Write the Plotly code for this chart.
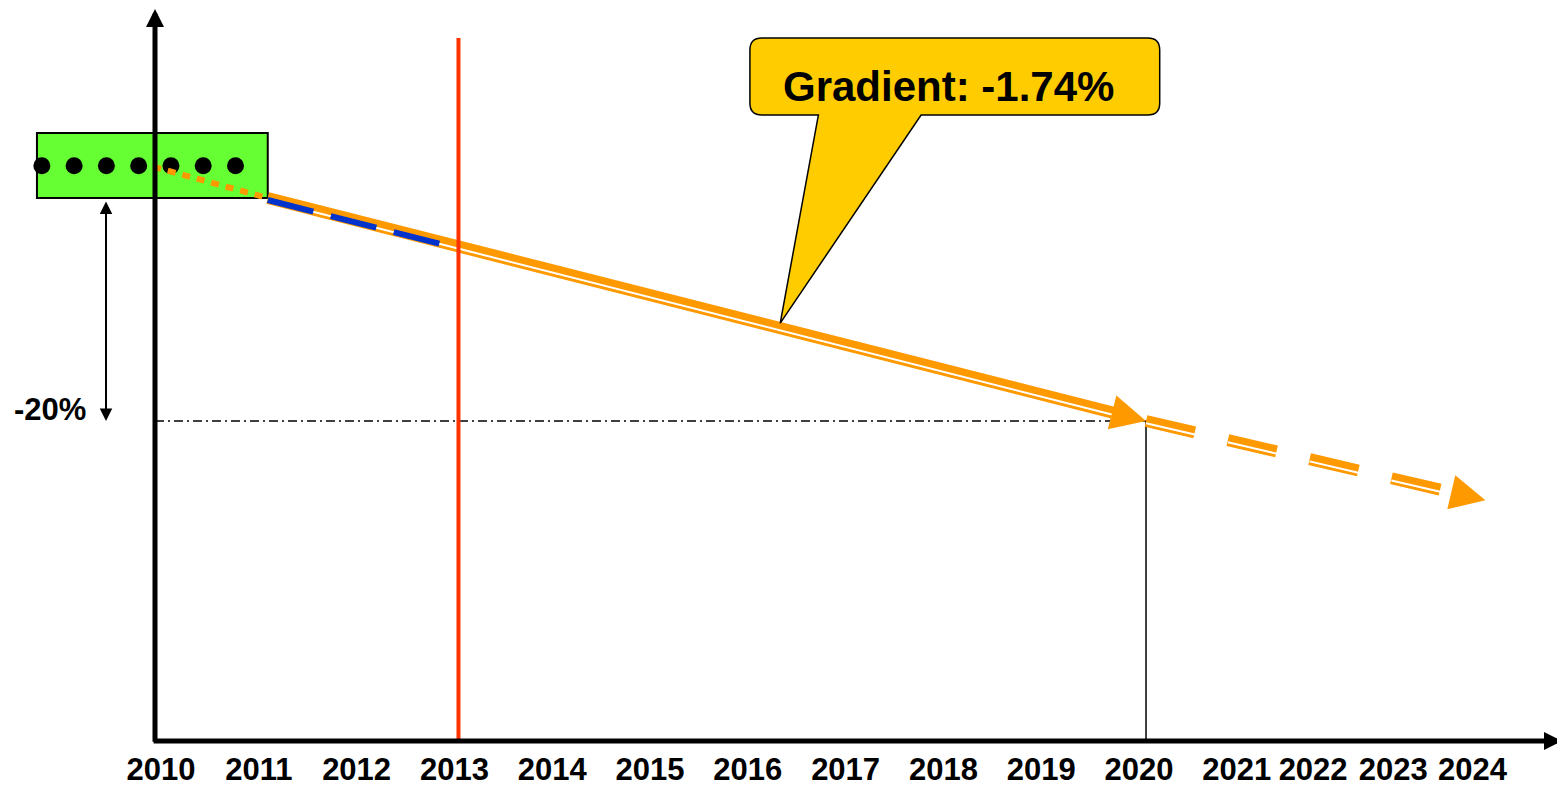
import math
import numpy as np
import plotly.graph_objects as go

# ------------------------------------------------------------------ data
year_labels = ["2010", "2011", "2012", "2013", "2014", "2015", "2016", "2017",
               "2018", "2019", "2020", "2021", "2022", "2023", "2024"]
tick_pos = [2010, 2011, 2012, 2013, 2014, 2015, 2016, 2017, 2018, 2019, 2020,
            2021, 2021.78, 2022.60, 2023.41]

# early observations shown as dots inside the green box (index % vs. start)
dots_x = [2008.71, 2009.04, 2009.37, 2009.70, 2010.03, 2010.36, 2010.69]
dots_y = [2.9, 2.9, 2.9, 2.9, 2.9, 2.9, 2.9]

# orange dotted link from observations to trend start
link_x = [2009.85, 2011.02]
link_y = [2.8, 0.0]

# actual development (blue dashed)
actual_x = [2011.02, 2012.81]
actual_y = [0.0, -4.0]

# target trend (-20 % by 2020)
trend_x = [2011.02, 2020.0]
trend_y = [0.0, -20.0]

# extrapolation after 2020
ext_x = [2020.0, 2023.47]
ext_y = [-20.0, -27.1]

target_year = 2020.0
target_value = -20.0
target_label = "-20%"
cutoff_year = 2012.97
gradient_label = "Gradient: -1.74%"

# ------------------------------------------------------------------ layout constants
# the page body adds an 8 px margin, so the figure is 8 px smaller each way
W, H, MB = 1557, 778, 45
X_RANGE = [2008.364, 2024.284]
Y_RANGE = [-48.70, 17.04]
PXX = W / (X_RANGE[1] - X_RANGE[0])          # px per year
PXY = (H - MB) / (Y_RANGE[1] - Y_RANGE[0])   # px per % point

ORANGE = "#FF9900"
BLUE = "#0033CC"
RED = "#FF3300"
GREEN = "#66FF33"
GOLD = "#FFCC00"
FONT = "Liberation Sans, Arial, sans-serif"

AXIS_X = 2009.867
AXIS_Y = Y_RANGE[0]


def down(ys, px):
    """shift values downward on screen by px pixels"""
    return [v - px / PXY for v in ys]


def pull_back(xs, ys, px):
    """end point moved px pixels back along the last segment"""
    dx = (xs[-1] - xs[-2]) * PXX
    dy = (ys[-1] - ys[-2]) * PXY
    L = math.hypot(dx, dy)
    return (xs[:-1] + [xs[-1] - dx / L * px / PXX],
            ys[:-1] + [ys[-1] - dy / L * px / PXY])


def head_offset(xs, ys, px):
    dx = (xs[-1] - xs[-2]) * PXX
    dy = -(ys[-1] - ys[-2]) * PXY
    L = math.hypot(dx, dy)
    return -dx / L * px, -dy / L * px


fig = go.Figure()

# observation dots
fig.add_trace(go.Scatter(x=dots_x, y=dots_y, mode="markers",
                         marker=dict(size=17, color="black"),
                         cliponaxis=False, hoverinfo="skip"))
# dotted orange link
fig.add_trace(go.Scatter(x=link_x, y=link_y, mode="lines",
                         line=dict(color=ORANGE, width=6, dash="8px,7px"),
                         hoverinfo="skip"))

# trend: double line (thick band + white gap)
tx, ty = pull_back(trend_x, trend_y, 18)
fig.add_trace(go.Scatter(x=tx, y=ty, mode="lines",
                         line=dict(color=ORANGE, width=12), hoverinfo="skip"))
fig.add_trace(go.Scatter(x=tx, y=down(ty, 2.2), mode="lines",
                         line=dict(color="white", width=2), hoverinfo="skip"))
# actual (blue dashed)
fig.add_trace(go.Scatter(x=actual_x, y=down(actual_y, 2.0), mode="lines",
                         line=dict(color=BLUE, width=6, dash="47px,18px"),
                         hoverinfo="skip"))

# extrapolation: dashed double line
ex, ey = pull_back(ext_x, ext_y, 30)
fig.add_trace(go.Scatter(x=ex, y=ey, mode="lines",
                         line=dict(color=ORANGE, width=12, dash="50px,34px"),
                         hoverinfo="skip"))
fig.add_trace(go.Scatter(x=ex, y=down(ey, 2.2), mode="lines",
                         line=dict(color="white", width=2, dash="50px,34px"),
                         hoverinfo="skip"))

shapes = []
# green box
shapes.append(dict(type="rect", xref="x", yref="y", layer="below",
                   x0=2008.66, x1=trend_x[0], y0=0.0, y1=5.83,
                   fillcolor=GREEN, line=dict(color="black", width=2)))
# -20 % guide lines
shapes.append(dict(type="line", xref="x", yref="y", layer="below",
                   x0=AXIS_X, x1=target_year, y0=target_value, y1=target_value,
                   line=dict(color="black", width=1.5, dash="9px,4px,2px,4px")))
shapes.append(dict(type="line", xref="x", yref="y", layer="below",
                   x0=target_year, x1=target_year, y0=target_value, y1=AXIS_Y,
                   line=dict(color="black", width=1.5)))
# red cut-off line
shapes.append(dict(type="line", xref="x", yref="y", layer="above",
                   x0=cutoff_year, x1=cutoff_year, y0=14.35, y1=-49.1,
                   line=dict(color=RED, width=4)))

# callout
bx0, bx1, by0, by1 = 2015.95, 2020.14, 7.44, 14.35
rx, ry = 12 / PXX, 12 / PXY
tail_a, tail_b = 2016.65, 2017.70
tip_x = 2016.26
tip_y = float(np.interp(tip_x, trend_x, trend_y)) + 5 / PXY
path = (f"M{bx0+rx},{by1} L{bx1-rx},{by1} Q{bx1},{by1} {bx1},{by1-ry} "
        f"L{bx1},{by0+ry} Q{bx1},{by0} {bx1-rx},{by0} "
        f"L{tail_b},{by0} L{tip_x},{tip_y} L{tail_a},{by0} "
        f"L{bx0+rx},{by0} Q{bx0},{by0} {bx0},{by0+ry} "
        f"L{bx0},{by1-ry} Q{bx0},{by1} {bx0+rx},{by1} Z")
shapes.append(dict(type="path", xref="x", yref="y", layer="above", path=path,
                   fillcolor=GOLD, line=dict(color="black", width=1.5)))

annotations = []
# axes with arrows
annotations.append(dict(x=AXIS_X, y=16.95, ax=AXIS_X, ay=AXIS_Y - 0.2,
                        xref="x", yref="y", axref="x", ayref="y", text="",
                        showarrow=True, arrowhead=2, arrowwidth=5,
                        arrowsize=0.72, arrowcolor="black"))
annotations.append(dict(x=2024.253, y=AXIS_Y, ax=AXIS_X - 0.03, ay=AXIS_Y,
                        xref="x", yref="y", axref="x", ayref="y", text="",
                        showarrow=True, arrowhead=2, arrowwidth=5,
                        arrowsize=0.72, arrowcolor="black"))
# double arrow for -20 %
annotations.append(dict(x=2009.366, y=target_value, ax=2009.366, ay=-0.18,
                        xref="x", yref="y", axref="x", ayref="y", text="",
                        showarrow=True, arrowside="end+start",
                        arrowhead=2, startarrowhead=2, arrowwidth=2,
                        arrowsize=1.25, startarrowsize=1.25, arrowcolor="black"))
# arrow heads of trend and extrapolation
for xs, ys in ((trend_x, trend_y), (ext_x, ext_y)):
    ax, ay = head_offset(xs, ys, 30)
    annotations.append(dict(x=xs[-1], y=ys[-1], ax=ax, ay=ay,
                            xref="x", yref="y", text="", showarrow=True,
                            arrowhead=2, arrowwidth=2, arrowsize=3.5,
                            arrowcolor=ORANGE))
# texts
annotations.append(dict(x=2008.79, y=-19.0, xref="x", yref="y",
                        text=target_label, showarrow=False,
                        font=dict(family=FONT, size=31, color="black",
                                  weight="bold")))
annotations.append(dict(x=2017.98, y=9.96, xref="x", yref="y",
                        text=gradient_label, showarrow=False,
                        font=dict(family=FONT, size=42, color="black",
                                  weight="bold")))

fig.update_layout(
    width=W, height=H,
    margin=dict(l=0, r=0, t=0, b=MB, pad=0),
    paper_bgcolor="white", plot_bgcolor="white",
    showlegend=False,
    shapes=shapes, annotations=annotations,
    xaxis=dict(range=X_RANGE, tickvals=tick_pos, ticktext=year_labels,
               showgrid=False, zeroline=False, showline=False, ticks="",
               automargin=False,
               ticklabelshift=-7, ticklabelstandoff=7,
               tickfont=dict(family=FONT, size=31, color="black",
                             weight="bold"),
               fixedrange=True),
    yaxis=dict(range=Y_RANGE, visible=False, fixedrange=True,
               automargin=False),
)

fig.write_html("out.html")
